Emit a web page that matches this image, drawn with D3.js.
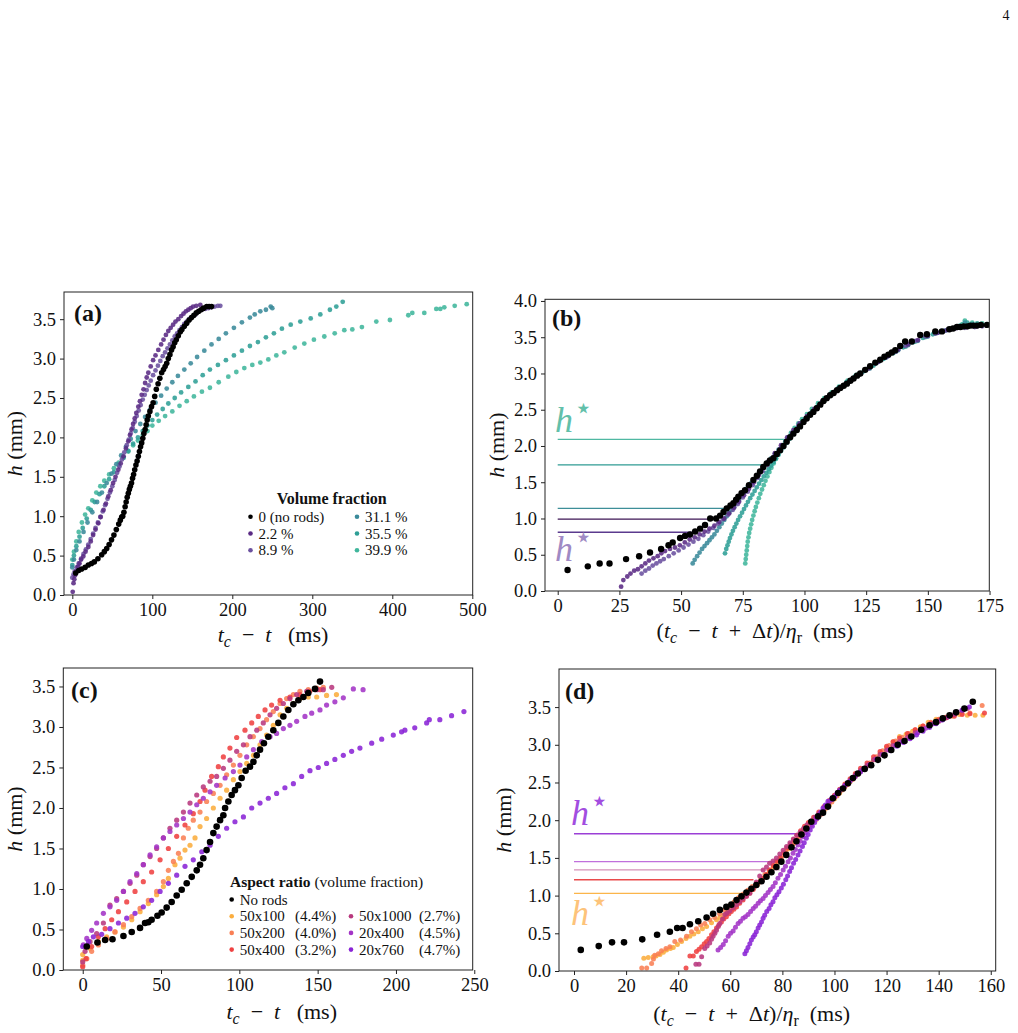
<!DOCTYPE html>
<html>
<head>
<meta charset="utf-8">
<script src="https://cdn.jsdelivr.net/npm/d3@7"></script>
<style>
body { margin: 0; background: #fff; }
text { font-family: "Liberation Serif", "DejaVu Serif", serif; fill: #111; }
</style>
</head>
<body>
<div id="chart-area"></div>
<script>
// ---- panel (a): h vs tc - t
var a_black = [[4.2,0.28],[8,0.31],[11.7,0.33],[16,0.35],[20,0.38],[24,0.4],[27.5,0.42],[32,0.46],[36.7,0.51],[40,0.55],[43,0.59],[46,0.64],[49,0.7],[52,0.76],[55,0.83],[58,0.9],[60,0.95],[61.7,0.99],[63,1.0],[64.5,1.05],[66,1.12],[67.3,1.18],[68.6,1.24],[70,1.29],[71.3,1.34],[72.6,1.38],[74,1.42],[75.3,1.48],[76.6,1.53],[78,1.59],[79.5,1.65],[81,1.7],[82.5,1.76],[83.9,1.82],[85.3,1.88],[86.7,1.93],[88.1,1.99],[89.5,2.05],[91,2.1],[92.3,2.16],[93.6,2.22],[95,2.27],[97,2.33],[99,2.39],[101,2.44],[103,2.52],[105,2.61],[107.2,2.68],[109.4,2.75],[111.7,2.82],[114,2.86],[116,2.9],[118,2.94],[120,3.0],[122,3.05],[124,3.11],[126,3.15],[128,3.2],[130,3.24],[132.5,3.29],[135,3.34],[137,3.37],[140,3.41],[143,3.45],[146,3.49],[149,3.52],[152,3.55],[155,3.58],[158,3.6],[161,3.62],[164,3.64],[168,3.66],[171,3.66],[174,3.66]];
var a_p22 = [[0.5,0.04],[1.5,0.15],[2.5,0.2],[3.5,0.25],[5,0.3],[7,0.36],[9,0.4],[11,0.45],[13.7,0.49],[16.5,0.55],[20,0.61],[23,0.68],[26,0.76],[29,0.83],[32.5,0.91],[35.5,0.99],[39,1.08],[42,1.16],[45,1.25],[48,1.33],[51,1.42],[54,1.5],[57.5,1.59],[60.5,1.67],[64,1.76],[67,1.86],[70,1.95],[72,2.03],[74,2.1],[76,2.17],[78,2.24],[80,2.31],[82.5,2.39],[84.5,2.46],[86.7,2.54],[89,2.61],[91,2.69],[93,2.76],[95,2.82],[98,2.9],[101,2.98],[104,3.04],[107.5,3.11],[111,3.18],[114,3.24],[117,3.3],[120,3.35],[123,3.39],[126,3.43],[129,3.47],[132.5,3.5],[136,3.54],[139,3.57],[142,3.6],[145,3.62],[148,3.64],[151,3.66],[155,3.67],[160,3.68]];
var a_p89 = [[0,0.22],[1.5,0.26],[3,0.3],[5.5,0.35],[8,0.4],[11,0.46],[14,0.52],[17,0.58],[20,0.64],[23,0.71],[26,0.78],[29,0.85],[32,0.92],[35,0.99],[38,1.06],[41,1.14],[44,1.22],[47,1.3],[50,1.38],[53,1.46],[56,1.55],[59,1.63],[62,1.72],[65,1.81],[68,1.9],[70.5,1.97],[73,2.05],[75.5,2.12],[78,2.2],[80.5,2.27],[83,2.34],[85.5,2.41],[88,2.48],[90.5,2.54],[93,2.6],[95.5,2.66],[98,2.72],[101,2.79],[104,2.85],[107,2.91],[110,2.97],[113,3.03],[116,3.08],[119,3.13],[122,3.18],[125,3.23],[128,3.28],[131,3.32],[134,3.36],[137,3.4],[140,3.44],[143,3.47],[146,3.5],[150,3.53],[154,3.56],[158,3.6],[162,3.62],[166,3.63],[170,3.64],[174,3.65],[178,3.66],[182,3.67],[185,3.67]];
var a_t31 = [[0,0.35],[2,0.45],[5,0.57],[9,0.68],[14,0.8],[19,0.92],[25,1.05],[31,1.18],[37,1.3],[43,1.42],[49,1.54],[55,1.66],[61,1.77],[67,1.88],[73,1.98],[79,2.08],[85,2.17],[91,2.26],[97,2.35],[104,2.44],[111,2.53],[118,2.62],[125,2.7],[132,2.78],[140,2.86],[148,2.94],[156,3.02],[165,3.1],[174,3.18],[183,3.25],[192,3.32],[202,3.39],[212,3.46],[222,3.52],[228,3.56],[235,3.6],[242,3.62],[248,3.66],[250,3.64]];
var a_t35 = [[0,0.38],[2,0.5],[5,0.62],[9,0.74],[13,0.85],[18,0.97],[23,1.08],[28,1.18],[34,1.28],[40,1.38],[46,1.47],[52,1.56],[58,1.65],[64,1.74],[70,1.83],[76,1.92],[82,2.0],[88,2.08],[94,2.15],[100,2.22],[106,2.29],[113,2.36],[120,2.43],[128,2.5],[136,2.57],[145,2.64],[154,2.71],[163,2.79],[172,2.86],[182,2.92],[192,2.98],[202,3.04],[212,3.1],[222,3.16],[232,3.21],[242,3.27],[252,3.32],[262,3.38],[273,3.43],[285,3.47],[298,3.51],[310,3.56],[322,3.62],[330,3.66],[338,3.72]];
var a_t40 = [[0,0.45],[2,0.55],[5,0.68],[8,0.8],[12,0.92],[16,1.02],[20,1.1],[25,1.2],[30,1.3],[35,1.38],[40,1.45],[46,1.53],[52,1.61],[58,1.68],[64,1.75],[70,1.82],[76,1.9],[82,1.96],[88,2.03],[94,2.08],[100,2.15],[108,2.21],[116,2.27],[125,2.33],[134,2.4],[143,2.46],[152,2.52],[162,2.58],[172,2.63],[183,2.7],[195,2.77],[205,2.83],[215,2.88],[225,2.92],[235,2.95],[245,2.99],[255,3.04],[265,3.08],[278,3.14],[290,3.19],[302,3.24],[315,3.28],[328,3.32],[340,3.36],[350,3.37],[362,3.4],[380,3.47],[397,3.49],[420,3.55],[425,3.58],[440,3.58],[455,3.63],[460,3.63],[465,3.65],[478,3.67],[493,3.69]];

// ---- panel (b): rescaled time
var b_black = [[4,0.29],[12.2,0.34],[17,0.38],[21,0.38],[27.7,0.44],[33,0.48],[37.4,0.53],[41.9,0.58],[44.9,0.63],[46.6,0.67],[49.6,0.73],[51.6,0.76],[53.6,0.78],[55.7,0.82],[57.7,0.86],[59.7,0.91],[61.8,1.0],[64.2,1.0],[65.8,1.04],[67.2,1.09],[68.5,1.14],[70,1.18],[71.2,1.21],[72.3,1.26],[73.2,1.3],[74.5,1.35],[75.9,1.39],[77.5,1.46],[79.3,1.53],[80.7,1.59],[82,1.65],[83.3,1.71],[84.7,1.76],[86,1.8],[87.4,1.83],[88.8,1.89],[90.1,1.94],[91.5,2.0],[92.8,2.06],[94.2,2.12],[95.5,2.17],[96.9,2.22],[98.2,2.27],[99.6,2.33],[100.9,2.38],[102.3,2.43],[103.6,2.47],[105,2.52],[106.4,2.57],[107.7,2.62],[109,2.66],[110.4,2.7],[111.8,2.73],[113.2,2.77],[114.5,2.8],[115.9,2.83],[117.2,2.86],[118.6,2.9],[119.9,2.93],[121.3,2.97],[122.6,3.0],[124.6,3.05],[126.6,3.1],[128.7,3.15],[130.7,3.19],[132.4,3.23],[134,3.26],[135.4,3.29],[136.8,3.32],[138.8,3.38],[140.8,3.44],[143.5,3.44],[146.9,3.53],[149.6,3.54],[153,3.58],[155.7,3.58],[158.7,3.61],[160.2,3.62],[161.8,3.64],[163.2,3.64],[164.5,3.65],[166,3.65],[167.2,3.66],[168.5,3.66],[169.9,3.66],[171.5,3.67],[174,3.67]];
var b_p22 = [[25.7,0.06],[26.6,0.15],[28.2,0.2],[29.5,0.24],[31,0.28],[32.5,0.3],[34,0.34],[35.5,0.38],[37,0.42],[38.8,0.45],[40.5,0.48],[42,0.52],[43.5,0.55],[45.5,0.58],[47.5,0.6],[49.5,0.63],[51.5,0.67],[53.5,0.71],[55.5,0.74],[57.5,0.78],[59.5,0.82],[61.5,0.86],[63.5,0.9],[65.5,0.95],[67.5,1.0],[69.5,1.07],[71.5,1.15],[73.5,1.23],[75.5,1.32],[77.5,1.41],[79.5,1.5],[81.5,1.6],[83.5,1.7],[85.5,1.79],[88,1.9],[90.5,2.01],[93,2.12],[95.5,2.22],[98,2.31],[101,2.41],[104,2.51],[107,2.6],[110,2.69],[113,2.77],[116,2.84],[119,2.91],[122,2.98],[126,3.07],[130,3.16],[134,3.24],[138,3.33],[142,3.4],[146,3.46],[150,3.52],[154,3.56],[158,3.6],[162,3.63],[166,3.64],[170,3.65],[174,3.67]];
var b_p89 = [[34,0.24],[35.5,0.28],[37,0.31],[38.5,0.35],[40,0.38],[41.5,0.41],[43,0.44],[45,0.48],[47,0.52],[49,0.56],[51,0.6],[53,0.64],[55,0.68],[57,0.72],[59,0.77],[61,0.82],[63,0.87],[65,0.93],[67,0.99],[69,1.05],[71,1.12],[73,1.2],[75,1.29],[77,1.37],[79,1.46],[81,1.56],[83,1.65],[85,1.74],[87.5,1.85],[90,1.96],[92.5,2.07],[95,2.18],[97.5,2.28],[100.5,2.38],[103.5,2.48],[106.5,2.58],[109.5,2.67],[112.5,2.75],[115.5,2.83],[118.5,2.9],[121.5,2.97],[125,3.05],[129,3.14],[133,3.22],[137,3.3],[141,3.38],[145,3.45],[149,3.51],[153,3.55],[157,3.59],[161,3.62],[165,3.63],[169,3.64],[172,3.65]];
var b_t31 = [[54.7,0.38],[55.5,0.43],[56.5,0.48],[57.5,0.53],[58.5,0.58],[59.5,0.62],[60.5,0.66],[61.5,0.7],[62.5,0.74],[63.5,0.78],[64.5,0.83],[65.5,0.88],[66.5,0.93],[67.5,0.98],[68.5,1.03],[69.5,1.08],[70.5,1.12],[71.5,1.16],[72.5,1.21],[73.5,1.26],[74.5,1.31],[75.5,1.36],[76.5,1.41],[77.5,1.45],[78.5,1.49],[79.5,1.53],[80.5,1.57],[81.5,1.61],[82.5,1.66],[83.5,1.71],[85,1.77],[86.5,1.83],[88,1.89],[89.5,1.95],[91,2.01],[92.5,2.07],[94,2.13],[96,2.21],[98,2.29],[100,2.36],[102.5,2.45],[105,2.53],[108,2.62],[111,2.71],[114,2.79],[117,2.86],[120,2.93],[123,3.0],[126.5,3.07],[130,3.16],[134,3.24],[138,3.32],[142,3.39],[146,3.45],[150,3.51],[154,3.56],[158,3.6],[162,3.64],[165,3.7],[168,3.68]];
var b_t35 = [[67.8,0.52],[68.3,0.58],[68.8,0.63],[69.3,0.68],[69.8,0.73],[70.4,0.78],[71,0.83],[71.7,0.88],[72.4,0.93],[73.1,0.98],[73.9,1.03],[74.7,1.08],[75.5,1.13],[76.3,1.18],[77.1,1.23],[78,1.28],[78.9,1.33],[79.8,1.38],[80.7,1.43],[81.6,1.48],[82.5,1.53],[83.5,1.58],[84.5,1.63],[85.5,1.68],[86.5,1.73],[87.5,1.78],[88.5,1.83],[89.5,1.88],[90.5,1.93],[91.5,1.98],[92.7,2.04],[94,2.1],[95.5,2.17],[97,2.24],[98.5,2.3],[100.5,2.38],[102.5,2.45],[105,2.54],[107.5,2.62],[110.5,2.71],[113.5,2.79],[117,2.88],[120.5,2.96],[124,3.03],[128,3.11],[132,3.2],[136,3.28],[140,3.36],[144,3.43],[148,3.49],[152,3.54],[156,3.58],[160,3.62],[163,3.66],[166,3.7],[170,3.69],[174,3.68]];
var b_t40 = [[76,0.38],[76.2,0.44],[76.4,0.5],[76.6,0.56],[76.8,0.62],[77,0.68],[77.3,0.74],[77.6,0.8],[78,0.86],[78.4,0.92],[78.8,0.98],[79.3,1.04],[79.8,1.1],[80.3,1.16],[80.9,1.22],[81.5,1.28],[82.1,1.34],[82.8,1.4],[83.5,1.46],[84.2,1.52],[85,1.58],[85.8,1.64],[86.6,1.7],[87.5,1.76],[88.4,1.82],[89.3,1.88],[90.2,1.94],[91.2,2.0],[92.2,2.06],[93.3,2.12],[94.5,2.18],[96,2.25],[97.5,2.31],[99,2.37],[101,2.44],[103,2.51],[105.5,2.59],[108,2.66],[111,2.74],[114,2.82],[117.5,2.9],[121,2.98],[125,3.06],[129,3.14],[133,3.22],[137,3.3],[141,3.37],[145,3.44],[149,3.5],[153,3.55],[157,3.59],[161,3.63],[164,3.68],[165,3.73],[168,3.7],[172,3.69],[175,3.68]];
// h* levels in (b): [h, end of line]
var b_hstar = [[2.09, 92], [1.74, 84], [1.14, 67.8], [0.99, 61], [0.81, 54.3]];

// ---- panel (c): aspect ratio
var c_black = [[2.6,0.29],[9.4,0.34],[14.3,0.37],[19,0.38],[26,0.42],[31.3,0.47],[36.6,0.52],[39.8,0.58],[41.9,0.59],[44,0.62],[47.7,0.67],[50.4,0.71],[53.6,0.77],[56.8,0.84],[60,0.92],[63.2,0.99],[66.4,1.07],[69.6,1.15],[72.8,1.23],[74.9,1.3],[77,1.38],[79.1,1.48],[81.3,1.58],[83.4,1.69],[85.5,1.77],[87.7,1.85],[89.8,1.91],[90.9,2.0],[93,2.08],[95.1,2.16],[97.2,2.22],[99.4,2.28],[101.5,2.37],[104,2.46],[106.8,2.51],[109,2.57],[111.1,2.65],[113.2,2.72],[115.7,2.8],[118.5,2.88],[121.7,2.96],[124.9,3.05],[128.1,3.13],[131.3,3.21],[134.5,3.28],[137.7,3.33],[140.9,3.37],[144,3.42],[148.3,3.47],[151.5,3.56]];
var c_o100 = [[0,0.12],[0,0.19],[4.7,0.27],[10,0.35],[15.3,0.41],[20.6,0.47],[26,0.53],[31.3,0.62],[36.6,0.72],[41.9,0.82],[47.2,0.93],[51.5,1.03],[54.7,1.13],[58.9,1.3],[62.1,1.38],[65.3,1.48],[68.5,1.54],[71.7,1.63],[74.9,1.77],[79.1,1.87],[83.4,2.0],[87.7,2.12],[91.9,2.22],[96.2,2.35],[100.4,2.45],[104.7,2.55],[109,2.65],[113.2,2.78],[117.4,2.9],[121.7,3.02],[126,3.15],[130.2,3.23],[134.5,3.29],[138.7,3.35],[144,3.37],[149.4,3.37],[155.7,3.39],[162,3.4]];
var c_o200 = [[0,0.06],[2.6,0.14],[5.7,0.23],[10,0.31],[15.3,0.39],[20.6,0.47],[26,0.56],[31.3,0.66],[36.6,0.76],[41.9,0.86],[47.2,0.97],[51.5,1.09],[54.7,1.23],[57.9,1.34],[61.1,1.44],[64.3,1.63],[67.4,1.75],[70.6,1.85],[74.9,1.95],[79.1,2.08],[83.4,2.18],[87.7,2.28],[91.9,2.41],[96.2,2.53],[100.4,2.65],[104.7,2.78],[109,2.88],[113.2,2.98],[117.4,3.09],[121.7,3.19],[126,3.29],[130.2,3.35],[134.5,3.4],[138.7,3.44],[144,3.46],[149.4,3.48],[153.6,3.49]];
var c_r400 = [[0,0.04],[2.1,0.14],[5.7,0.29],[10,0.41],[14.3,0.51],[18.5,0.62],[22.8,0.72],[28.1,0.84],[33.4,0.97],[38.7,1.09],[44,1.21],[49.4,1.36],[54.7,1.5],[60,1.65],[65.3,1.79],[70.6,1.93],[74.9,2.08],[78.1,2.22],[82.3,2.39],[86.6,2.51],[89.8,2.63],[94,2.74],[98.3,2.87],[103.6,2.96],[107.9,3.05],[112.1,3.13],[116.4,3.21],[120.6,3.27],[126,3.33],[132.3,3.37],[138.7,3.4],[145,3.44],[151.5,3.46]];
var c_m1000 = [[0,0.1],[1.5,0.23],[4.7,0.35],[8.9,0.45],[13.2,0.58],[17.4,0.8],[21.7,0.88],[26,0.97],[30.2,1.07],[34.5,1.17],[38.7,1.3],[43,1.4],[47.2,1.5],[51.5,1.63],[55.7,1.75],[60,1.85],[64.3,1.95],[68.5,2.06],[72.8,2.16],[77,2.26],[81.3,2.33],[85.5,2.39],[89.8,2.49],[94,2.59],[98.3,2.7],[102.6,2.78],[106.8,2.88],[111.1,2.96],[115.3,3.05],[119.6,3.15],[123.8,3.23],[128.1,3.29],[132.3,3.35],[136.6,3.4],[143,3.44],[149.4,3.46],[153.6,3.46],[159,3.49]];
var c_v400 = [[0.4,0.31],[2.6,0.39],[5.7,0.49],[8.9,0.58],[13.2,0.7],[17.4,0.78],[21.7,0.86],[26,0.97],[30.2,1.09],[34.5,1.19],[38.7,1.3],[43,1.42],[47.2,1.52],[51.5,1.63],[55.7,1.71],[60,1.79],[64.3,1.87],[68.5,1.95],[72.8,2.04],[77,2.12],[81.3,2.2],[85.5,2.28],[90.9,2.37],[96.2,2.45],[100.4,2.53],[104.7,2.63],[109,2.72],[114.3,2.82],[119.6,2.88],[123.8,2.92],[128.1,2.98],[132.3,3.02],[136.6,3.07],[141.9,3.13],[146.2,3.17],[151.5,3.21],[155.7,3.27],[161,3.31],[166.4,3.36],[172.8,3.47],[179,3.46]];
var c_v760 = [[0,0.29],[3.6,0.35],[6.8,0.41],[12.1,0.44],[17.4,0.51],[22.8,0.58],[28.1,0.64],[33.4,0.7],[38.7,0.78],[44,0.86],[49.4,0.97],[54.7,1.07],[60,1.17],[65.3,1.28],[70.6,1.36],[76,1.46],[81.3,1.54],[86.6,1.65],[91.9,1.75],[97.2,1.83],[102.6,1.89],[107.9,2.0],[113.2,2.06],[118.5,2.12],[123.8,2.18],[129.1,2.25],[134.5,2.3],[139.8,2.39],[145.1,2.46],[150.4,2.5],[155.7,2.55],[161,2.6],[166.4,2.65],[171.7,2.7],[177,2.74],[184.5,2.8],[190.9,2.85],[198.3,2.9],[203.6,2.94],[205.7,2.96],[212,2.99],[219.6,3.05],[221.3,3.09],[228,3.09],[235.5,3.14],[243.4,3.19]];

// ---- panel (d): rescaled time, aspect ratio
var d_black = [[2.6,0.28],[9.5,0.33],[14.6,0.38],[19.2,0.38],[26.2,0.42],[31.9,0.48],[36.8,0.52],[39.6,0.57],[41.7,0.57],[44.5,0.62],[47.7,0.66],[50.9,0.71],[53.4,0.76],[56,0.81],[58.5,0.85],[60.4,0.88],[62.4,0.94],[64.3,0.99],[66.2,1.04],[68.1,1.09],[70,1.14],[72,1.19],[73.9,1.25],[75.8,1.31],[77.7,1.38],[79.6,1.45],[81.5,1.54],[83.5,1.64],[85.4,1.72],[87.3,1.81],[89.2,1.89],[91.1,1.98],[93.7,2.05],[95.6,2.1],[97.5,2.18],[99.4,2.29],[101.4,2.36],[103.3,2.42],[105.2,2.49],[107.1,2.56],[109,2.62],[111.6,2.68],[114.1,2.73],[116.7,2.8],[119.2,2.86],[121.8,2.93],[124.3,3.0],[126.9,3.05],[129.5,3.11],[133.3,3.2],[136.5,3.26],[139,3.3],[141.6,3.35],[144.2,3.39],[146.7,3.43],[149.9,3.48],[153.1,3.57]];
var d_o100 = [[26.8,0.17],[28.5,0.18],[30.4,0.19],[31.5,0.2],[33,0.22],[34.3,0.25],[35.5,0.28],[37,0.3],[38.1,0.31],[39.7,0.35],[41.3,0.39],[43,0.43],[44.5,0.46],[46,0.49],[47.7,0.52],[49.3,0.56],[50.9,0.59],[52.8,0.64],[54.7,0.68],[56,0.71],[57.3,0.74],[58.5,0.77],[59.8,0.81],[61.4,0.85],[63,0.9],[64.5,0.95],[66,1.0],[67.5,1.05],[69,1.1],[70.5,1.15],[72,1.2],[73.5,1.26],[75,1.32],[76.5,1.38],[78,1.44],[79.5,1.5],[81,1.56],[82.5,1.62],[84,1.68],[85.5,1.74],[87,1.8],[88.5,1.86],[90,1.92],[92,1.99],[94,2.06],[96,2.13],[98,2.2],[100,2.28],[102,2.36],[104,2.44],[106,2.51],[108,2.58],[110,2.65],[112.5,2.72],[115,2.8],[117.5,2.88],[120,2.96],[122.5,3.04],[125,3.11],[127.5,3.14],[130,3.18],[133,3.24],[136,3.3],[139,3.34],[142,3.36],[145,3.38],[148,3.4],[151,3.39],[154,3.39],[157,3.39]];
var d_o200 = [[26,0.04],[27.9,0.04],[29.8,0.1],[30.5,0.16],[31,0.21],[32.4,0.23],[33.6,0.27],[35.3,0.3],[36.8,0.32],[38.7,0.39],[40.9,0.41],[43.2,0.46],[45.1,0.52],[47,0.56],[48.6,0.61],[50.2,0.63],[52.1,0.68],[54,0.71],[55.9,0.76],[57.9,0.81],[59.8,0.87],[61.5,0.92],[63.2,0.97],[65,1.02],[66.7,1.07],[68.4,1.12],[70,1.17],[71.7,1.22],[73.3,1.28],[75,1.34],[76.6,1.4],[78.2,1.46],[79.8,1.52],[81.4,1.58],[83,1.64],[84.6,1.7],[86.2,1.76],[87.8,1.82],[89.4,1.88],[91,1.94],[93,2.01],[95,2.08],[97,2.16],[99,2.24],[101,2.32],[103,2.4],[105,2.47],[107,2.54],[109,2.61],[111,2.68],[113.5,2.76],[116,2.84],[118.5,2.92],[121,2.99],[123.5,3.05],[126,3.1],[128.5,3.15],[131,3.2],[134,3.25],[137,3.3],[140,3.34],[143,3.37],[146,3.39],[149,3.41],[152,3.42],[156.7,3.52]];
var d_r400 = [[43,0.04],[44.5,0.2],[45.8,0.2],[47,0.26],[48,0.29],[49,0.32],[50,0.36],[50.9,0.39],[51.8,0.43],[52.8,0.48],[53.7,0.52],[54.7,0.57],[55.6,0.61],[56.6,0.65],[57.5,0.69],[58.5,0.72],[59.5,0.76],[60.4,0.79],[61.4,0.82],[62.4,0.85],[63.6,0.9],[64.9,0.94],[66.2,0.99],[67.5,1.03],[68.8,1.08],[70,1.13],[71.3,1.18],[72.6,1.23],[73.9,1.28],[75.2,1.34],[76.5,1.4],[77.8,1.46],[79.1,1.51],[80.4,1.57],[81.7,1.63],[83,1.68],[84.3,1.74],[85.6,1.8],[87,1.86],[88.5,1.92],[90,1.97],[92,2.04],[94,2.11],[96,2.18],[98,2.26],[100,2.33],[102,2.41],[104,2.48],[106,2.55],[108,2.62],[110,2.69],[112.5,2.76],[115,2.84],[117.5,2.91],[120,2.98],[122.5,3.04],[125,3.09],[128,3.15],[131,3.2],[134,3.25],[137,3.29],[140,3.33],[143,3.36],[146,3.38],[149,3.4],[152,3.41],[157.6,3.42]];
var d_m1000 = [[46.8,0.09],[48,0.09],[49,0.19],[50.2,0.3],[51.1,0.33],[52.1,0.37],[52.8,0.42],[53.4,0.46],[54.1,0.5],[54.7,0.54],[55.4,0.59],[56,0.63],[57,0.69],[57.9,0.75],[58.8,0.77],[59.8,0.8],[61.1,0.84],[62.4,0.88],[63.7,0.92],[64.9,0.96],[66.2,0.99],[67.5,1.03],[68.8,1.1],[70,1.18],[71.3,1.26],[72.6,1.34],[73.9,1.38],[75.1,1.43],[76.4,1.46],[77.7,1.5],[79,1.55],[80.3,1.6],[81.6,1.65],[82.9,1.7],[84.2,1.75],[85.5,1.8],[86.8,1.84],[88.1,1.89],[89.5,1.94],[91,1.99],[92.5,2.04],[94,2.09],[96,2.16],[98,2.24],[100,2.32],[102,2.39],[104,2.46],[106,2.53],[108,2.6],[110,2.66],[112.5,2.73],[115,2.8],[117.5,2.87],[120,2.93],[122.5,2.99],[125,3.04],[128,3.1],[131,3.16],[134,3.21],[137,3.27],[140,3.31],[143,3.36],[146,3.4],[149,3.45],[151,3.48]];
var d_v400 = [[55.3,0.28],[56.3,0.31],[57.3,0.35],[58.2,0.4],[59.2,0.46],[60.1,0.5],[61.1,0.53],[62,0.58],[63,0.63],[63.9,0.66],[64.9,0.7],[65.8,0.72],[66.8,0.75],[67.8,0.79],[68.8,0.83],[69.7,0.86],[70.7,0.9],[71.6,0.93],[72.6,0.96],[73.5,1.0],[74.5,1.04],[75.4,1.08],[76.4,1.12],[77.3,1.17],[78.3,1.23],[79.3,1.28],[80.3,1.34],[81.2,1.39],[82.2,1.45],[83.1,1.5],[84.1,1.56],[85,1.61],[86,1.67],[86.9,1.72],[87.9,1.78],[88.8,1.83],[89.8,1.89],[91.5,1.97],[93.2,2.04],[95,2.11],[97,2.19],[99,2.27],[101,2.35],[103,2.42],[105,2.49],[107,2.56],[109,2.62],[111,2.68],[113.5,2.74],[116,2.81],[118.5,2.87],[121,2.93],[123.5,2.99],[126,3.04],[129,3.1],[132,3.16],[135,3.22],[138,3.28],[141,3.33],[144,3.38],[147,3.43],[150,3.48]];
var d_v760 = [[65.6,0.23],[66.2,0.27],[66.8,0.31],[67.5,0.36],[68.1,0.41],[68.8,0.45],[69.4,0.48],[70,0.52],[70.7,0.57],[71.3,0.61],[72,0.65],[72.6,0.7],[73.2,0.74],[74,0.79],[74.9,0.83],[75.6,0.88],[76.4,0.92],[77.1,0.97],[77.9,1.01],[78.7,1.05],[79.6,1.1],[80.4,1.15],[81.3,1.21],[82,1.26],[82.8,1.32],[83.5,1.37],[84.3,1.43],[85.1,1.48],[86,1.54],[86.8,1.59],[87.7,1.65],[88.4,1.7],[89.2,1.76],[89.9,1.81],[90.7,1.87],[91.5,1.92],[92.4,1.97],[93.2,2.02],[94.1,2.07],[94.8,2.11],[95.6,2.16],[96.5,2.2],[97.5,2.25],[98.8,2.28],[100.1,2.31],[101,2.36],[102,2.4],[104,2.46],[106,2.52],[108,2.58],[110,2.64],[112,2.69],[114,2.74],[116.5,2.8],[119,2.86],[121.5,2.92],[124,2.98],[126.5,3.03],[129,3.08],[131.5,3.13],[134,3.18],[136.5,3.23],[139,3.28],[141.5,3.33],[144,3.38],[146.5,3.42],[149,3.46],[151.8,3.5]];
var d_hstar = [[1.82, 87.4], [1.45, 80.4], [1.34, 79], [1.21, 68.9], [1.03, 65]];

var aTicksX = [0, 100, 200, 300, 400, 500];
var bTicksX = [0, 25, 50, 75, 100, 125, 150, 175];
var cTicksX = [0, 50, 100, 150, 200, 250];
var dTicksX = [0, 20, 40, 60, 80, 100, 120, 140, 160];
var ticksY4 = [0, 0.5, 1, 1.5, 2, 2.5, 3, 3.5, 4];
var ticksY35 = [0, 0.5, 1, 1.5, 2, 2.5, 3, 3.5];

var col = {
    black: '#000000', p22: '#5a2a84', p89: '#6b519f', t31: '#3a8a9a', t35: '#2f9f96', t40: '#40b69c',
    o100: '#fbad3e', o200: '#f97f55', r400: '#ef4141', m1000: '#b8387e', v400: '#a334c6', v760: '#8a24d6'
};

var svg = d3.select('#chart-area')
    .append('svg')
    .attr('width', 1018)
    .attr('height', 1033);

svg.append('rect').attr('width', 1018).attr('height', 1033).attr('fill', '#fff');

svg.append('text')
    .attr('x', 1006).attr('y', 20)
    .attr('text-anchor', 'middle')
    .style('font-size', '14px')
    .text('4');

function panel(o) {
    var x = d3.scaleLinear().domain(o.xd).range([o.l, o.r]);
    var y = d3.scaleLinear().domain(o.yd).range([o.b, o.t]);
    var g = svg.append('g');

    g.append('clipPath').attr('id', 'clip' + o.id)
        .append('rect')
        .attr('x', o.l).attr('y', o.t)
        .attr('width', o.r - o.l).attr('height', o.b - o.t);

    var xa = g.append('g')
        .attr('transform', 'translate(0,' + o.b + ')')
        .call(d3.axisBottom(x).tickValues(o.xt).tickSize(4).tickPadding(4).tickFormat(d3.format('d')));
    var ya = g.append('g')
        .attr('transform', 'translate(' + o.l + ',0)')
        .call(d3.axisLeft(y).tickValues(o.yt).tickSize(4).tickPadding(4).tickFormat(d3.format('.1f')));
    [xa, ya].forEach(function (a) {
        a.select('.domain').remove();
        a.attr('font-family', null).attr('font-size', null);
        a.selectAll('line').attr('stroke', '#222');
        a.selectAll('text').style('font-size', '18.5px');
    });

    var plot = g.append('g').attr('clip-path', 'url(#clip' + o.id + ')');

    // h* reference lines
    (o.lines || []).forEach(function (d) {
        plot.append('line')
            .attr('x1', x(0)).attr('x2', x(d[1]))
            .attr('y1', y(d[0])).attr('y2', y(d[0]))
            .attr('stroke', d[2])
            .attr('stroke-width', 1.3);
    });

    o.series.forEach(function (s) {
        plot.append('g').selectAll('circle')
            .data(s[0])
            .enter()
            .append('circle')
            .attr('cx', function (d) { return x(d[0]); })
            .attr('cy', function (d) { return y(d[1]); })
            .attr('r', s[2])
            .attr('fill', s[1])
            .attr('fill-opacity', s[1] == '#000000' ? 1 : 0.88);
    });

    g.append('rect')
        .attr('x', o.l).attr('y', o.t)
        .attr('width', o.r - o.l).attr('height', o.b - o.t)
        .attr('fill', 'none')
        .attr('stroke', '#222')
        .attr('stroke-width', 1);

    g.append('text')
        .attr('x', o.lab[0]).attr('y', o.lab[1])
        .style('font-size', '24px')
        .style('font-weight', 'bold')
        .text(o.name);

    // y label
    var yl = g.append('text')
        .attr('transform', 'translate(' + o.ylx + ',' + ((o.t + o.b) / 2) + ') rotate(-90)')
        .attr('text-anchor', 'middle')
        .style('font-size', '22px');
    yl.append('tspan').attr('font-style', 'italic').text('h');
    yl.append('tspan').text(' (mm)');

    // x label
    var xl = g.append('text')
        .attr('x', o.xlab[0]).attr('y', o.xlab[1])
        .attr('text-anchor', 'middle')
        .style('font-size', '22px')
        .style('white-space', 'pre');
    if (o.scaled) xl.append('tspan').text('(');
    xl.append('tspan').attr('font-style', 'italic').text('t');
    xl.append('tspan').attr('font-style', 'italic').attr('dy', 5).style('font-size', '16px').text('c');
    xl.append('tspan').attr('dy', -5).text('  \u2212  ');
    xl.append('tspan').attr('font-style', 'italic').text('t');
    if (o.scaled) {
        xl.append('tspan').text('  +  \u0394');
        xl.append('tspan').attr('font-style', 'italic').text('t');
        xl.append('tspan').text(')/');
        xl.append('tspan').attr('font-style', 'italic').text('\u03b7');
        xl.append('tspan').attr('dy', 5).style('font-size', '16px').text('r');
        xl.append('tspan').attr('dy', -5).text('  (ms)');
    } else {
        xl.append('tspan').text('   (ms)');
    }

    return { x: x, y: y, g: g };
}

function hstar(g, px, py, c) {
    var t = g.append('text')
        .attr('x', px).attr('y', py)
        .style('font-size', '36px')
        .style('fill', c);
    t.append('tspan').attr('font-style', 'italic').text('h');
    t.append('tspan')
        .attr('dy', -14)
        .attr('dx', 1)
        .style('font-size', '30px')
        .style('font-family', 'DejaVu Sans')
        .text('\u22c6');
}

function legendDot(g, cx, cy, c, label) {
    g.append('circle').attr('cx', cx).attr('cy', cy).attr('r', 2.3).attr('fill', c);
    g.append('text').attr('x', cx + 8).attr('y', cy + 5).style('font-size', '15px').text(label);
}

// (a)
var pa = panel({
    id: 'a', l: 64, r: 472.7, t: 292, b: 595,
    xd: [-10.4, 500.5], yd: [0, 3.845], xt: aTicksX, yt: ticksY35,
    series: [[a_t40, col.t40, 2.4], [a_t35, col.t35, 2.4], [a_t31, col.t31, 2.4],
             [a_p89, col.p89, 2.4], [a_p22, col.p22, 2.4], [a_black, col.black, 2.8]],
    name: '(a)', lab: [74, 321], ylx: 22, xlab: [273, 642]
});
svg.append('text').attr('x', 331.7).attr('y', 504).attr('text-anchor', 'middle')
    .style('font-size', '16px').style('font-weight', 'bold').text('Volume fraction');
var legA1 = [['0 (no rods)', col.black], ['2.2 %', col.p22], ['8.9 %', col.p89]];
var legA2 = [['31.1 %', col.t31], ['35.5 %', col.t35], ['39.9 %', col.t40]];
legA1.forEach(function (d, i) { legendDot(svg, 250.5, 516.8 + i * 16.7, d[1], d[0]); });
legA2.forEach(function (d, i) { legendDot(svg, 357, 516.8 + i * 16.7, d[1], d[0]); });

// (b)
var pb = panel({
    id: 'b', l: 545, r: 989.3, t: 299.3, b: 591,
    xd: [-5.15, 174.9], yd: [0, 4.023], xt: bTicksX, yt: ticksY4,
    lines: b_hstar.map(function (d, i) { return [d[0], d[1], ['#4fb8a2', '#2f9b93', '#3d8e98', '#3c1454', '#5b3a8e'][i]]; }),
    series: [[b_t40, col.t40, 2.4], [b_t35, col.t35, 2.4], [b_t31, col.t31, 2.4],
             [b_p89, col.p89, 2.4], [b_p22, col.p22, 2.4], [b_black, col.black, 3.2]],
    name: '(b)', lab: [552, 326], ylx: 504, xlab: [755, 638], scaled: true
});
hstar(svg, 555, 432, '#62c0aa');
hstar(svg, 555, 561, '#9f8ac4');

// (c)
var pc = panel({
    id: 'c', l: 63.3, r: 472.7, t: 668, b: 970,
    xd: [-12.4, 249], yd: [0, 3.728], xt: cTicksX, yt: ticksY35,
    series: [[c_o100, col.o100, 2.6], [c_o200, col.o200, 2.6], [c_r400, col.r400, 2.6],
             [c_m1000, col.m1000, 2.6], [c_v400, col.v400, 2.6], [c_v760, col.v760, 2.6],
             [c_black, col.black, 3.3]],
    name: '(c)', lab: [71, 698], ylx: 22, xlab: [281.7, 1019]
});
var tc = svg.append('text').attr('x', 230).attr('y', 886.5).style('font-size', '15.5px');
tc.append('tspan').style('font-weight', 'bold').text('Aspect ratio');
tc.append('tspan').text(' (volume fraction)');
legendDot(svg, 231.7, 899.5, col.black, 'No rods');
var legC1 = [['50x100', '(4.4%)', col.o100], ['50x200', '(4.0%)', col.o200], ['50x400', '(3.2%)', col.r400]];
var legC2 = [['50x1000', '(2.7%)', col.m1000], ['20x400', '(4.5%)', col.v400], ['20x760', '(4.7%)', col.v760]];
legC1.forEach(function (d, i) {
    legendDot(svg, 231.7, 916.2 + i * 16.7, d[2], d[0]);
    svg.append('text').attr('x', 295).attr('y', 921.2 + i * 16.7).style('font-size', '15px').text(d[1]);
});
legC2.forEach(function (d, i) {
    legendDot(svg, 351, 916.2 + i * 16.7, d[2], d[0]);
    svg.append('text').attr('x', 419).attr('y', 921.2 + i * 16.7).style('font-size', '15px').text(d[1]);
});

// (d)
var pd = panel({
    id: 'd', l: 559, r: 995.7, t: 669, b: 971,
    xd: [-5.76, 161.9], yd: [0, 4.005], xt: dTicksX, yt: ticksY35,
    lines: d_hstar.map(function (d, i) { return [d[0], d[1], ['#9b3fd6', '#c070dc', '#d591b8', '#e94b4b', '#fbb54a'][i]]; }),
    series: [[d_o100, col.o100, 2.5], [d_o200, col.o200, 2.5], [d_r400, col.r400, 2.5],
             [d_m1000, col.m1000, 2.5], [d_v400, col.v400, 2.5], [d_v760, col.v760, 2.5],
             [d_black, col.black, 3.3]],
    name: '(d)', lab: [565, 699], ylx: 511, xlab: [751.7, 1021], scaled: true
});
hstar(svg, 571, 825, '#a24ee0');
hstar(svg, 571, 925, '#fdc37a');
</script>
</body>
</html>
